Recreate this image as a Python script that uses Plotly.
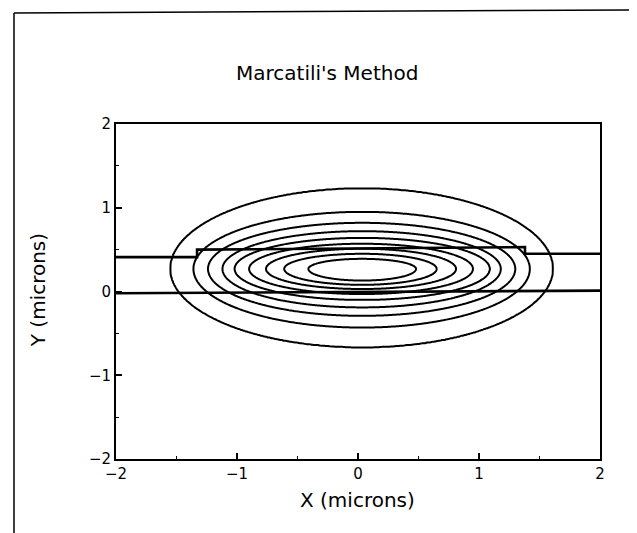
import numpy as np
import plotly.graph_objects as go

# Contour levels (fraction of peak intensity)
levels = [0.1, 0.2, 0.3, 0.4, 0.5, 0.6, 0.7, 0.8, 0.9]
# Crossing positions (microns), outermost contour first
x_center = 0.035
x_left = [-1.55, -1.36, -1.24, -1.12, -1.02, -0.90, -0.76, -0.61, -0.41]
x_right = [1.61, 1.42, 1.30, 1.18, 1.09, 0.95, 0.81, 0.65, 0.48]
y_center = 0.27
y_bottom = [-0.665, -0.43, -0.29, -0.19, -0.10, -0.03, 0.03, 0.08, 0.13]
y_top = [1.23, 0.95, 0.82, 0.72, 0.64, 0.57, 0.51, 0.45, 0.39]

# Rib waveguide outline (microns)
wg_top_x = [-2.0, -1.33, -1.33, 1.38, 1.38, 2.0]
wg_top_y = [0.41, 0.41, 0.50, 0.53, 0.45, 0.45]
wg_bot_x = [-2.0, 2.0]
wg_bot_y = [-0.02, 0.01]

tick_vals = [-2, -1, 0, 1, 2]


def half_width(t, center, cross):
    """Half-width of the contour at level exp(-t), from the read crossings."""
    lv = np.array(levels)
    d = np.abs(np.array(cross) - center)
    tk = -np.log(lv)
    order = np.argsort(tk)
    tk = np.concatenate([[0.0], tk[order], [-np.log(0.005)]])
    d2 = np.concatenate([[0.0], (d ** 2)[order], [9.0]])
    return np.maximum(np.sqrt(np.interp(t, tk, d2)), 1e-9)


xs = np.linspace(-2, 2, 401)
ys = np.linspace(-2, 2, 401)
X, Y = np.meshgrid(xs, ys)
dx = X - x_center
dy = Y - y_center

lo = np.zeros(X.shape)
hi = np.full(X.shape, 12.0)
for _ in range(40):
    mid = 0.5 * (lo + hi)
    ax = np.where(dx < 0, half_width(mid, x_center, x_left), half_width(mid, x_center, x_right))
    by = np.where(dy < 0, half_width(mid, y_center, y_bottom), half_width(mid, y_center, y_top))
    h = (dx / ax) ** 2 + (dy / by) ** 2
    inside = h <= 1.0
    hi = np.where(inside, mid, hi)
    lo = np.where(inside, lo, mid)
z = np.exp(-0.5 * (lo + hi))

fig = go.Figure()
fig.add_trace(go.Contour(
    x=xs, y=ys, z=z,
    contours=dict(start=levels[0], end=levels[-1], size=0.1, coloring="lines"),
    colorscale=[[0, "black"], [1, "black"]],
    line=dict(width=2, smoothing=1.0),
    showscale=False, hoverinfo="skip",
))
fig.add_trace(go.Scatter(x=wg_top_x, y=wg_top_y, mode="lines",
                         line=dict(color="black", width=2.6), hoverinfo="skip"))
fig.add_trace(go.Scatter(x=wg_bot_x, y=wg_bot_y, mode="lines",
                         line=dict(color="black", width=2.6), hoverinfo="skip"))

font_family = "DejaVu Sans"
axis_common = dict(
    range=[-2, 2], tickvals=tick_vals, ticks="inside", ticklen=6, tickwidth=1.5,
    tickcolor="black", showline=True, linecolor="black", linewidth=2, mirror=True,
    showgrid=False, zeroline=False,
    minor=dict(ticks="inside", ticklen=3, dtick=0.5, tickcolor="black", tickwidth=1),
    tickfont=dict(family=font_family, size=15, color="black"),
)
fig.update_xaxes(**axis_common)
fig.update_yaxes(**axis_common)


def px(page_x):
    return (page_x - 116) / 484


def py(page_y):
    return (459 - page_y) / 335


title_font = dict(family=font_family, size=20, color="black")
frame_line = dict(color="black", width=1.5)
fig.update_layout(
    width=637, height=533,
    margin=dict(l=108, r=45, t=116, b=82),
    paper_bgcolor="white", plot_bgcolor="white",
    showlegend=False,
    annotations=[
        dict(text="Marcatili's Method", x=0.436, y=1.152, xref="paper", yref="paper",
             showarrow=False, xanchor="center", yanchor="middle", font=title_font),
        dict(text="X (microns)", x=0.498, y=-0.122, xref="paper", yref="paper",
             showarrow=False, xanchor="center", yanchor="middle", font=title_font),
        dict(text="Y (microns)", x=-0.161, y=0.504, xref="paper", yref="paper",
             showarrow=False, xanchor="center", yanchor="middle", textangle=-90,
             font=title_font),
    ],
    shapes=[
        # outer page frame
        dict(type="line", xref="paper", yref="paper",
             x0=px(14), y0=py(545), x1=px(14), y1=py(13), line=frame_line),
        dict(type="line", xref="paper", yref="paper",
             x0=px(14), y0=py(13), x1=px(636), y1=py(10), line=frame_line),
        dict(type="line", xref="paper", yref="paper",
             x0=px(635), y0=py(10), x1=px(635), y1=py(345), line=frame_line),
    ],
)

fig.write_html("out.html")
